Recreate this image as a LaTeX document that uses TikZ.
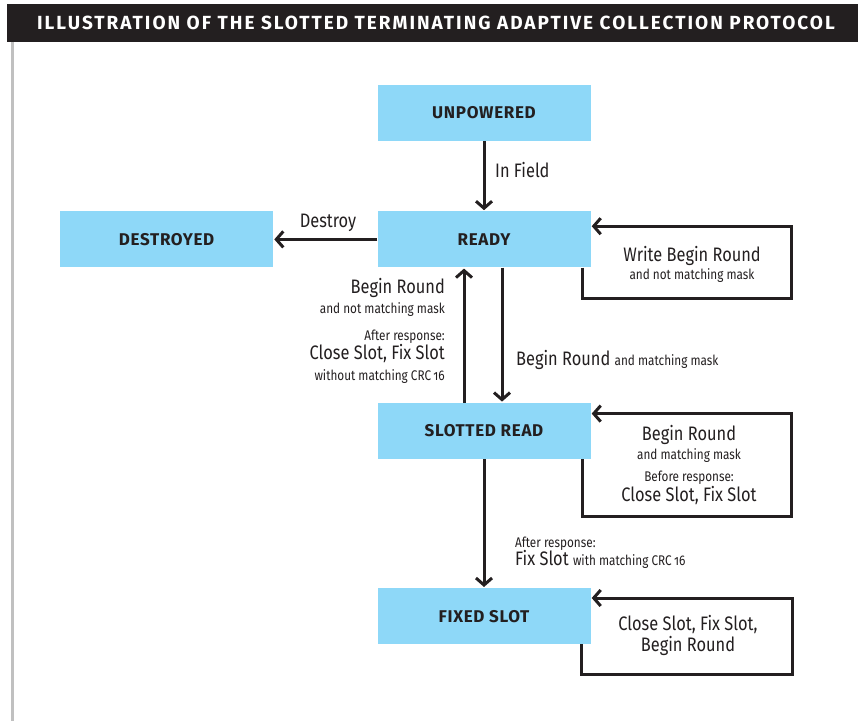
\documentclass[tikz,border=0pt]{standalone}
\usepackage{fontspec}
\setmainfont{Fira Sans}[FakeStretch=0.84,Numbers=OldStyle]
\newfontfamily\statefont{Fira Sans}[LetterSpace=4]
\newfontfamily\titlefont{Fira Sans}[LetterSpace=10.5]
\usetikzlibrary{arrows.meta,positioning}
\definecolor{ink}{HTML}{231F20}
\definecolor{skyblue}{HTML}{8ED8F8}
\definecolor{rulegrey}{HTML}{C0C0C0}
\newcommand\sm{\fontsize{14}{17}\selectfont}
\newcommand\bigtxt{\fontsize{19.5}{21}\selectfont}

\begin{document}
\begin{tikzpicture}[
  x=1pt, y=1pt,
  node distance = 70pt and 104pt,
  base/.style = {
    rectangle,
    fill=#1,
    inner sep=0pt,
    minimum width=213pt,
    minimum height=56pt,
    text=ink,
    font=\statefont\bfseries\fontsize{17}{20}\selectfont
  },
  state/.style = {base=skyblue},
  lbl/.style = {text=ink, inner sep=0pt, font=\bigtxt},
  arr/.style = {draw=ink, line width=3pt, shorten >=1pt, -{Straight Barb[length=7pt,width=16pt]}},
  ]
  \useasboundingbox (0,0) rectangle (858,721);
  % title bar
  \fill[ink] (7,679) rectangle (858,717);
  \node[text=white, font=\titlefont\bfseries\fontsize{19}{22}\selectfont] (title) at (436,698)
    {ILLUSTRATION OF THE SLOTTED TERMINATING ADAPTIVE COLLECTION PROTOCOL};
  \draw[rulegrey, line width=3pt] (12.5,679) -- (12.5,0);
  % states
  \node[state] (unpowered) at (484,608) {UNPOWERED};
  \node[state, below=of unpowered] (ready) {READY};
  \node[state, left=of ready] (destroyed) {DESTROYED};
  \node[state, below=135pt of ready] (slotted) {SLOTTED READ};
  \node[state, below=129pt of slotted] (fixed) {FIXED SLOT};
  % transitions
  \draw[arr] (unpowered) -- (ready);
  \draw[arr] (ready) -- (destroyed);
  \draw[arr] ([xshift=-20pt]slotted.north) -- ([xshift=-20pt]ready.south);
  \draw[arr] ([xshift=18pt]ready.south) -- ([xshift=18pt]slotted.north);
  \draw[arr] (slotted) -- (fixed);
  % self loops
  \draw[arr] ([xshift=-8pt]ready.south east) |- ++(209,-31) |- ([yshift=-15pt]ready.north east);
  \draw[arr] ([xshift=-8pt]slotted.south east) |- ++(209,-57) |- ([yshift=-11pt]slotted.north east);
  \draw[arr] ([xshift=-9pt]fixed.south east) |- ++(211,-30) |- ([yshift=-10pt]fixed.north east);
  % labels
  \node[lbl, anchor=west] (infield) at (495,551) {In Field};
  \node[lbl] (destroy) at (328,498) {Destroy};
  \node[lbl, align=center] (readyloop) at (692,457)
    {Write Begin Round\\[-3pt]{\sm and not matching mask}};
  \node[lbl, align=right, anchor=east] (backlbl) at (445,390)
    {Begin Round\\[-1pt]{\sm and not matching mask}\\[6pt]{\sm After response:}\\[-2pt]Close Slot, Fix Slot\\{\sm without matching CRC\,16}};
  \node[lbl, anchor=west] (fwdlbl) at (516,361) {Begin Round {\sm and matching mask}};
  \node[lbl, align=center] (slottedloop) at (689,256)
    {Begin Round\\[-2pt]{\sm and matching mask}\\[1pt]{\sm Before response:}\\[-1pt]Close Slot, Fix Slot};
  \node[lbl, align=left, anchor=west] (fixlbl) at (515,168)
    {{\sm After response:}\\[-3pt]Fix Slot {\sm with matching CRC\,16}};
  \node[lbl, align=center] (fixedloop) at (688,86) {Close Slot, Fix Slot,\\Begin Round};
\end{tikzpicture}
\end{document}
